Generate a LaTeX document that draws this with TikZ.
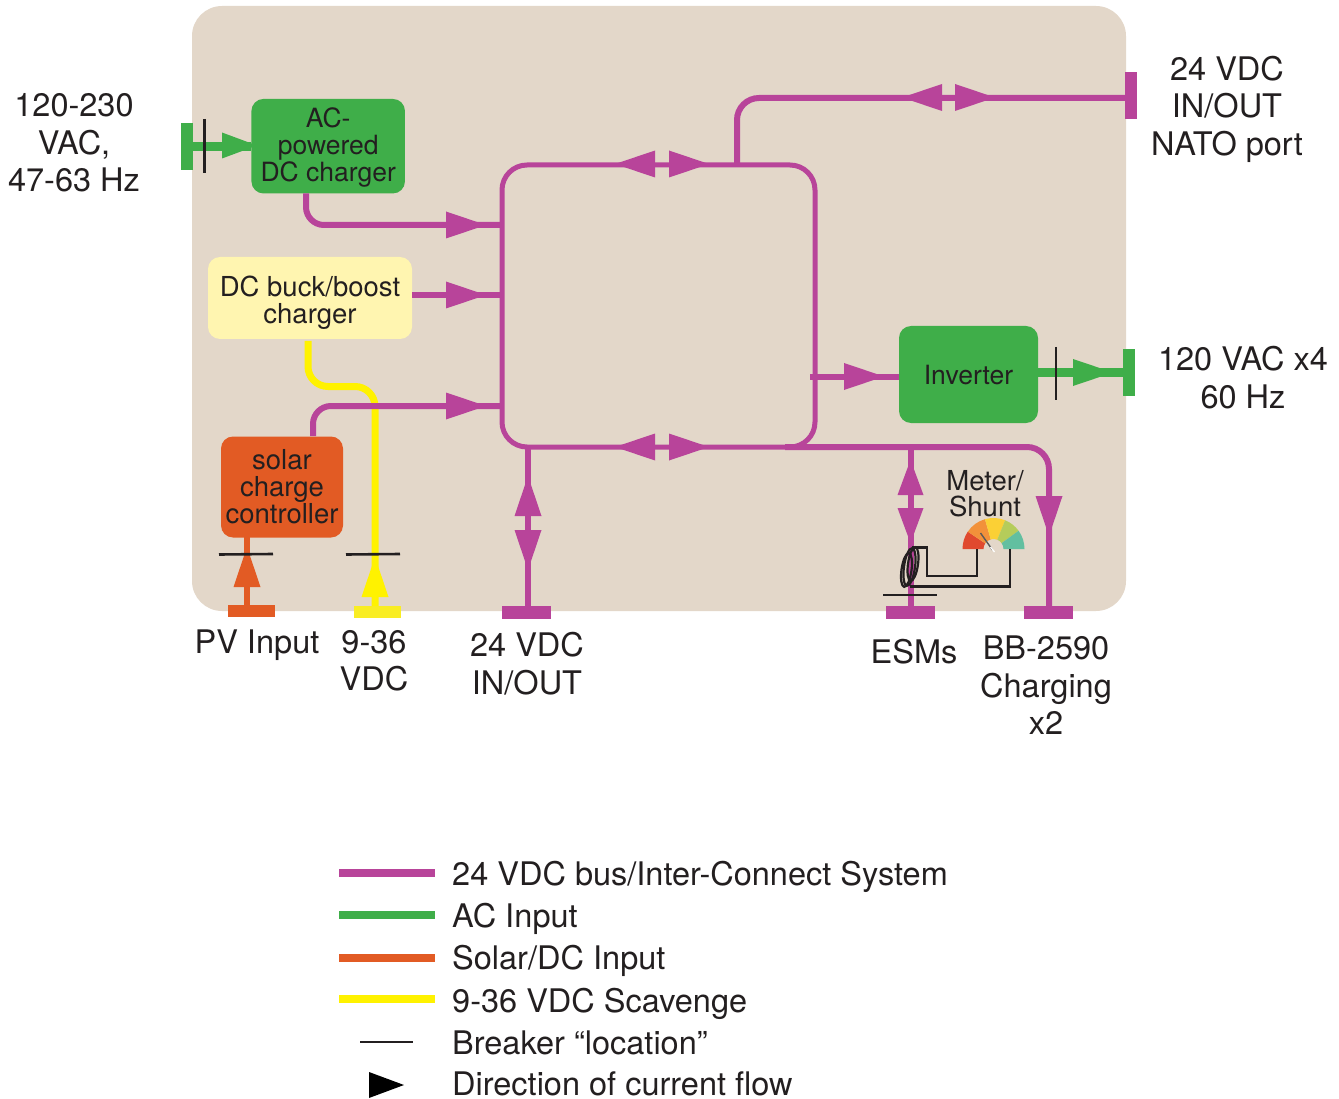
\documentclass[tikz,border=0pt]{standalone}
\usepackage{fontspec}
\setmainfont{TeX Gyre Heros}
\definecolor{panelc}{HTML}{E3D7C9}
\definecolor{busc}{HTML}{B8449A}
\definecolor{acc}{HTML}{3FAE49}
\definecolor{solc}{HTML}{E25B24}
\definecolor{yelc}{HTML}{FFF200}
\definecolor{yelbar}{HTML}{F9ED23}
\definecolor{buckc}{HTML}{FFF5B0}
\definecolor{inkc}{HTML}{231F20}
\definecolor{g1}{HTML}{E0492E}
\definecolor{g2}{HTML}{F2913A}
\definecolor{g3}{HTML}{FBD035}
\definecolor{g4}{HTML}{B5CC5A}
\definecolor{g5}{HTML}{62BFA0}
\tikzset{
  boxn/.style={rounded corners=12pt,inner sep=0pt,outer sep=0pt,align=center,text=inkc,font=\fontsize{26.5}{27}\selectfont},
  bar/.style={inner sep=0pt,outer sep=0pt,minimum width=#1},
  lab/.style={align=center,text=inkc,inner sep=0pt,font=\fontsize{32.5}{37.5}\selectfont},
  smalllab/.style={align=center,text=inkc,inner sep=0pt,font=\fontsize{27.5}{26}\selectfont},
  wbus/.style={draw=busc,line width=6pt},
  wac/.style={draw=acc,line width=9.5pt},
  wsol/.style={draw=solc,line width=6pt},
  wyel/.style={draw=yelc,line width=7pt},
  breaker/.style={draw=inkc,line width=2.6pt},
  coilw/.style={draw=inkc,line width=2.2pt},
  wirew/.style={draw=inkc,line width=2.8pt},
  flowhead/.pic={\fill (0,-13.5)--(40,0)--(0,13.5)--cycle;},
  shorthead/.pic={\fill (0,-13)--(35,0)--(0,13)--cycle;},
  legline/.style={line width=8pt},
  legt/.style={anchor=base west,text=inkc,inner sep=0pt,font=\fontsize{32.5}{36}\selectfont},
}
\newcommand{\gseg}[3]{\fill[#1] (#2:31) arc[start angle=#2,end angle=#3,radius=31] -- (#3:10) arc[start angle=#3,end angle=#2,radius=10] -- cycle;}
\begin{document}
\begin{tikzpicture}[x=1pt,y=-1pt]
\useasboundingbox (0,0) rectangle (1339,1099);
\fill[panelc,rounded corners=30pt] (192,6) rectangle (1126,611);

% nodes
\node[boxn,fill=acc,minimum width=153.5pt,minimum height=94.5pt] (ac) at (328.2,146.2) {\rule{0pt}{22.5pt}AC-\\powered\\DC charger};
\node[boxn,fill=buckc,minimum width=204pt,minimum height=82pt,font=\fontsize{27.5}{27}\selectfont] (buck) at (310,298) {\rule{0pt}{30pt}DC buck/boost\\charger};
\node[boxn,fill=solc,minimum width=122pt,minimum height=101pt,font=\fontsize{27.5}{27}\selectfont] (solar) at (282,487) {solar\\charge\\controller};
\node[boxn,fill=acc,minimum width=139pt,minimum height=97pt] (inv) at (968.5,374.5) {\rule{0pt}{21pt}Inverter};
\node[draw=busc,line width=5pt,rounded corners=25pt,inner sep=0pt,outer sep=0pt,minimum width=313pt,minimum height=282pt] (bus) at (658.5,306) {};

% terminal bars
\node[bar=12pt,fill=acc,minimum height=47pt] (tacin) at (187,146.5) {};
\node[bar=12pt,fill=busc,minimum height=47pt] (tnato) at (1131,95.5) {};
\node[bar=12pt,fill=acc,minimum height=47pt] (tacout) at (1129,372.5) {};
\node[bar=47pt,fill=solc,minimum height=12pt] (tpv) at (251.5,611) {};
\node[bar=47pt,fill=yelbar,minimum height=12pt] (tdc) at (377.5,612) {};
\node[bar=49pt,fill=busc,minimum height=13pt] (t24) at (526.5,612.5) {};
\node[bar=49pt,fill=busc,minimum height=13pt] (tesm) at (910.5,612.5) {};
\node[bar=49pt,fill=busc,minimum height=13pt] (tbb) at (1048.5,612.5) {};

% helper coordinates
\coordinate (acdrop) at (306,193.5);
\coordinate (acin) at (502,225);
\coordinate (buckin) at (502,295);
\coordinate (yelstart) at (308,341);
\coordinate (yelend) at (375,606);
\coordinate (yelmid) at (375,386.5);
\coordinate (solin) at (502,406);
\coordinate (solup) at (313,436);
\coordinate (pvx) at (247,606);
\coordinate (invstub) at (810,376.5);
\coordinate (up) at (737,164);
\coordinate (natoy) at (1125,98);
\coordinate (b24) at (528,447);
\coordinate (besm) at (910.5,447);
\coordinate (bbbstart) at (785,447);

% wires
\draw[wyel,rounded corners=20pt] (yelstart) |- (yelmid) -- (yelend);
\draw[wbus,rounded corners=18pt] (acdrop) |- (acin);
\draw[wbus] (buck.east |- buckin) -- (buckin);
\draw[wbus,rounded corners=18pt] (solup) |- (solin);
\draw[wbus] (invstub) -- (inv.west |- invstub);
\draw[wbus,rounded corners=22pt] (up) |- (natoy);
\draw[wbus] (b24) -- (528,606);
\draw[wbus] (besm) -- (910.5,606);
\draw[wbus,rounded corners=22pt] (bbbstart) -| (1049,606);
\draw[wac] (tacin.east) -- (ac.west |- tacin.east);
\draw[wac] (inv.east |- tacout.west) -- (tacout.west);
\draw[wsol] (247,537) -- (pvx);

% flow arrowheads
\pic[fill=acc] at (222,145.5) {shorthead};
\pic[fill=busc] at (446,225) {flowhead};
\pic[fill=busc] at (446,295) {flowhead};
\pic[fill=busc] at (446,406) {flowhead};
\pic[fill=busc] at (844,376.5) {flowhead};
\pic[fill=acc] at (1073,372.5) {flowhead};
\pic[fill=busc,rotate=180] at (655,164) {flowhead};
\pic[fill=busc] at (669,164) {flowhead};
\pic[fill=busc,rotate=180] at (942,97.5) {flowhead};
\pic[fill=busc] at (955,97.5) {flowhead};
\pic[fill=busc,rotate=180] at (655,447) {flowhead};
\pic[fill=busc] at (669,447) {flowhead};
\pic[fill=busc,rotate=90] at (528,516) {flowhead};
\pic[fill=busc,rotate=270] at (528,530) {flowhead};
\pic[fill=busc,rotate=90] at (910.5,495) {shorthead};
\pic[fill=busc,rotate=270] at (910.5,508) {shorthead};
\pic[fill=busc,rotate=270] at (1049,496) {flowhead};
\pic[fill=solc,rotate=90] at (247,587) {flowhead};
\pic[fill=yelc,rotate=90] at (375,597) {flowhead};

% breakers
\draw[breaker] (204.5,119) -- (204.5,173);
\draw[breaker] (1056,347) -- (1056,400);
\draw[breaker] (219,554.5) -- (273,554);
\draw[breaker] (346,554.5) -- (400,554);
\draw[breaker] (883,595) -- (937,595);

% gauge
\begin{scope}[shift={(993.5,549)},yscale=-1]
\gseg{g1}{180}{146}
\gseg{g2}{146}{106}
\gseg{g3}{106}{68}
\gseg{g4}{68}{36}
\gseg{g5}{36}{0}
\draw[gray!70!black,line width=1.4pt] (-13,16) -- (-1,-1);
\draw[white,line width=1.3pt] (-3,2) -- (1,-3);
\end{scope}

% shunt coil and wiring
\draw[wirew] (912,547.5) -- (927,547.5) -- (927,576) -- (977,576) -- (977,549);
\draw[wirew] (910,586.5) -- (1010,586.5) -- (1010,549);
\draw[coilw,rotate around={-8:(906.5,570)}] (906.5,570) ellipse[x radius=5,y radius=17];
\draw[coilw,rotate around={-8:(909.5,567)}] (909.5,567) ellipse[x radius=5.5,y radius=19];
\draw[coilw,rotate around={-8:(913,564)}] (913,564) ellipse[x radius=5,y radius=17];

% labels
\node[smalllab] (meter) at (985,494) {Meter/\\Shunt};
\node[lab] (lacin) at (74,143) {120-230\\VAC,\\47-63 Hz};
\node[lab] (lnato) at (1227,109) {24 VDC\\IN/OUT\\NATO port};
\node[lab] (lacout) at (1243,377.5) {120 VAC x4\\60 Hz};
\node[lab,anchor=base] (lpv) at (257,653) {PV Input};
\node[lab] (ldc) at (374,661) {9-36\\VDC};
\node[lab] (l24) at (527,663.5) {24 VDC\\IN/OUT};
\node[lab] (lesm) at (914,652) {ESMs};
\node[lab] (lbb) at (1046,685.5) {BB-2590\\Charging\\x2};

% legend
\draw[legline,draw=busc] (339,873) coordinate (la) -- (435,873) coordinate (lb);
\draw[legline,draw=acc] (339,915) coordinate (lc) -- (435,915) coordinate (ld);
\draw[legline,draw=solc] (339,958) coordinate (le) -- (435,958) coordinate (lf);
\draw[legline,draw=yelc] (339,999) coordinate (lg) -- (435,999) coordinate (lh);
\draw[draw=inkc,line width=2pt] (360,1042) coordinate (li) -- (413,1042) coordinate (lj);
\pic[fill=black] at (369,1085) {shorthead};
\node[legt] (t1) at (452,885) {24 VDC bus/Inter-Connect System};
\node[legt] (t2) at (452,927) {AC Input};
\node[legt] (t3) at (452,969) {Solar/DC Input};
\node[legt] (t4) at (452,1012) {9-36 VDC Scavenge};
\node[legt] (t5) at (452,1054) {Breaker “location”};
\node[legt] (t6) at (452,1095.5) {Direction of current flow};
\end{tikzpicture}
\end{document}
